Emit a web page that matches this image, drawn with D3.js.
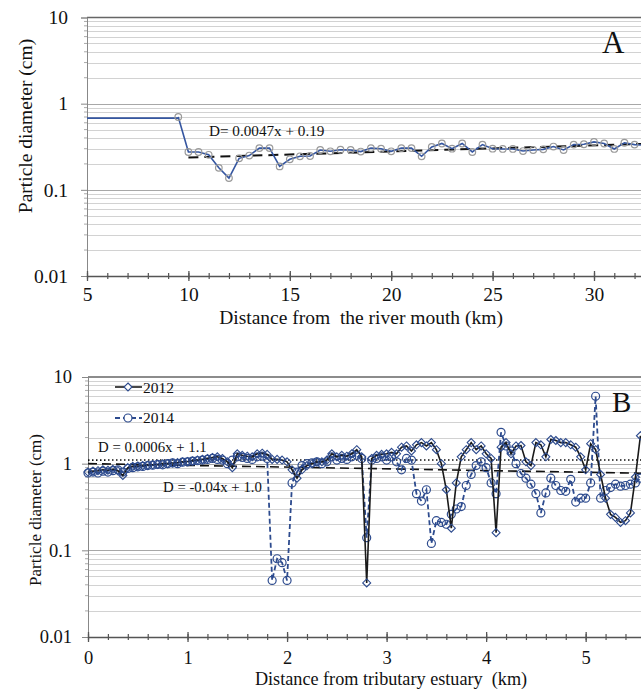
<!DOCTYPE html>
<html><head><meta charset="utf-8">
<script src="https://cdn.jsdelivr.net/npm/d3@7"></script>
<style>
body{margin:0;background:#fff}
svg{display:block}
text{font-family:"Liberation Serif","Times New Roman",serif;fill:#111}
</style>
</head><body>
<svg id="c" width="641" height="689"></svg>
<script>
// ---------- Panel A data ----------
const upstreamDistA = [5, 9.5];
const upstreamDiamA = [0.68, 0.68];
const distA = [9.5,10,10.5,11,11.5,12,12.5,13,13.5,14,14.5,15,15.5,16,16.5,17,17.5,18,18.5,19,19.5,20,20.5,21,21.5,22,22.5,23,23.5,24,24.5,25,25.5,26,26.5,27,27.5,28,28.5,29,29.5,30,30.5,31,31.5,32,32.5];
const diamA = [0.70,0.275,0.275,0.255,0.18,0.137,0.232,0.25,0.305,0.305,0.187,0.226,0.245,0.247,0.29,0.28,0.292,0.29,0.278,0.305,0.30,0.28,0.305,0.305,0.245,0.315,0.345,0.30,0.345,0.275,0.335,0.30,0.298,0.298,0.282,0.29,0.295,0.318,0.29,0.335,0.338,0.36,0.345,0.298,0.352,0.335,0.33];
const trendA = [0.0047, 0.19];          // slope, intercept
const trendARange = [10, 33];
const xTicksA = [5,10,15,20,25,30];

// ---------- Panel B data ----------
const distB = [0.00,0.05,0.10,0.15,0.20,0.25,0.30,0.35,0.40,0.45,0.50,0.55,0.60,0.65,0.70,0.75,0.80,0.85,0.90,0.95,
1.00,1.05,1.10,1.15,1.20,1.25,1.30,1.35,1.40,1.45,1.50,1.55,1.60,1.65,1.70,1.75,1.80,1.85,1.90,1.95,
2.00,2.05,2.10,2.15,2.20,2.25,2.30,2.35,2.40,2.45,2.50,2.55,2.60,2.65,2.70,2.75,2.80,2.85,2.90,2.95,
3.00,3.05,3.10,3.15,3.20,3.25,3.30,3.35,3.40,3.45,3.50,3.55,3.60,3.65,3.70,3.75,3.80,3.85,3.90,3.95,
4.00,4.05,4.10,4.15,4.20,4.25,4.30,4.35,4.40,4.45,4.50,4.55,4.60,4.65,4.70,4.75,4.80,4.85,4.90,4.95,
5.00,5.05,5.10,5.15,5.20,5.25,5.30,5.35,5.40,5.45,5.50,5.55];
const diam2012 = [0.80,0.82,0.83,0.85,0.84,0.86,0.83,0.73,0.90,0.93,0.94,0.95,0.96,0.97,0.98,1.00,1.00,1.02,1.03,1.05,
1.06,1.08,1.10,1.12,1.15,1.18,1.20,1.15,1.05,0.90,1.30,1.25,1.22,1.20,1.30,1.32,1.28,1.12,1.12,1.10,
1.05,0.85,0.68,0.85,0.95,1.00,1.05,1.05,1.10,1.30,1.20,1.25,1.22,1.30,1.45,1.20,0.042,1.15,1.25,1.28,
1.30,1.35,1.30,1.55,1.60,1.40,1.65,1.75,1.60,1.75,1.45,1.00,0.50,0.18,0.60,1.20,1.45,1.75,1.45,1.60,
1.30,1.15,0.16,1.55,1.75,1.30,1.60,1.62,1.05,0.95,1.75,1.65,1.20,1.90,1.85,1.75,1.75,1.65,1.55,1.20,
0.85,1.70,1.45,0.75,0.40,0.26,0.24,0.21,0.22,0.27,0.70,2.10];
const diam2014 = [0.78,0.80,0.78,0.82,0.80,0.83,0.85,0.80,0.88,0.90,0.92,0.93,0.95,0.96,0.98,0.97,1.00,1.02,1.00,1.04,
1.05,1.07,1.08,1.10,1.12,1.15,1.12,1.10,1.00,1.10,1.20,1.18,1.15,1.12,1.20,1.22,1.15,0.045,0.08,0.072,
0.045,0.60,0.80,0.95,1.00,1.02,1.05,1.00,1.05,1.20,1.10,1.15,1.12,1.20,1.25,1.15,0.14,1.10,1.15,1.20,
1.10,1.20,1.05,0.85,1.15,1.10,0.45,0.37,0.50,0.12,0.22,0.21,0.20,0.26,0.30,0.32,0.56,0.75,0.95,1.05,
0.90,0.60,0.45,2.30,1.60,1.40,1.00,0.77,0.68,0.58,0.45,0.27,0.46,0.68,0.56,0.49,0.48,0.66,0.36,0.40,
0.40,0.60,6.00,0.40,0.49,0.53,0.58,0.55,0.56,0.58,0.60,0.68];
const trend2012 = [0.0006, 1.1];
const trend2014 = [-0.04, 1.0];
const trendBRange = [0, 6];
const xTicksB = [0,1,2,3,4,5];

const yTickValues = [0.01, 0.1, 1, 10];
const yTickLabels = ["0.01", "0.1", "1", "10"];

// ---------- drawing ----------
const svg = d3.select("#c");
const W = 641;
const SERIF = '"Liberation Serif","Times New Roman",serif';

function drawFrame(x, y, opts) {
  const g = svg.append("g");
  const [x0] = x.range();
  const x1 = W + 10;
  const minor = [], major = [];
  for (let e = -2; e <= 0; e++) for (let k = 1; k <= 9; k++) {
    const v = k * Math.pow(10, e);
    (k === 1 ? major : minor).push(v);
  }
  g.selectAll(".gm").data(minor).join("line")
    .attr("x1", x0).attr("x2", x1).attr("y1", d => Math.round(y(d)) + 0.5).attr("y2", d => Math.round(y(d)) + 0.5)
    .attr("stroke", "#d2d2d2").attr("stroke-width", 1.2);
  g.selectAll(".gM").data(major.filter(d => d > 0.01)).join("line")
    .attr("x1", x0).attr("x2", x1).attr("y1", d => Math.round(y(d)) + 0.5).attr("y2", d => Math.round(y(d)) + 0.5)
    .attr("stroke", "#a8a8a8").attr("stroke-width", 1.2);
  g.append("line").attr("x1", x0).attr("x2", x1).attr("y1", y(10)).attr("y2", y(10))
    .attr("stroke", "#666").attr("stroke-width", 1.5);

  const ya = g.append("g").attr("transform", `translate(${x0},0)`)
    .call(d3.axisLeft(y).tickValues(yTickValues).tickFormat((d, i) => yTickLabels[i]).tickSize(6).tickPadding(opts.yPad));
  ya.attr("font-family", null);
  ya.select(".domain").attr("stroke", "#888");
  ya.selectAll(".tick line").attr("stroke", "#888");
  ya.selectAll("text").style("font-size", opts.tickFont + "px").style("font-family", SERIF).attr("fill", "#111");
  g.selectAll(".ymt").data(minor).join("line")
    .attr("x1", x0 - 3).attr("x2", x0).attr("y1", d => y(d)).attr("y2", d => y(d)).attr("stroke", "#aaa");

  const xa = g.append("g").attr("transform", `translate(0,${y(0.01)})`)
    .call(d3.axisBottom(x).tickValues(opts.minorX).tickFormat("").tickSize(0));
  xa.select(".domain").attr("stroke", "#555").attr("stroke-width", 1.3);
  xa.selectAll(".tick line").attr("y1", -3).attr("y2", 3).attr("stroke", "#555").attr("stroke-width", 1.2);
  const xb = g.append("g").attr("transform", `translate(0,${y(0.01)})`)
    .call(d3.axisBottom(x).tickValues(opts.majorX).tickSize(0).tickFormat(d3.format("d")));
  xb.attr("font-family", null);
  xb.select(".domain").remove();
  xb.selectAll(".tick line").attr("y1", -5).attr("y2", 5).attr("stroke", "#555").attr("stroke-width", 1.3);
  xb.selectAll("text").attr("y", opts.xLabY).attr("dy", 0)
    .style("font-size", opts.tickFont + "px").style("font-family", SERIF).attr("fill", "#111");
  return g;
}

// ----- Panel A -----
const xA = d3.scaleLinear().domain([5, 35]).range([87, 695.4]);
const yA = d3.scaleLog().domain([0.01, 10]).range([276, 17.5]);
drawFrame(xA, yA, {
  yPad: 13, tickFont: 19.5, xLabY: 25,
  minorX: d3.range(5, 36, 1), majorX: xTicksA
});
const lineA = d3.line().x(d => xA(d[0])).y(d => yA(d[1]));
const ptsA = distA.map((d, i) => [d, diamA[i]]);
const upA = upstreamDistA.map((d, i) => [d, upstreamDiamA[i]]);
svg.append("path")
  .attr("d", lineA([[trendARange[0], trendA[0] * trendARange[0] + trendA[1]], [trendARange[1], trendA[0] * trendARange[1] + trendA[1]]]))
  .attr("fill", "none").attr("stroke", "#111").attr("stroke-width", 2).attr("stroke-dasharray", "10,6");
svg.append("path").attr("d", lineA(upA.concat(ptsA)))
  .attr("fill", "none").attr("stroke", "#3556a0").attr("stroke-width", 1.6);
svg.append("g").selectAll("circle").data(ptsA).join("circle")
  .attr("cx", d => xA(d[0])).attr("cy", d => yA(d[1])).attr("r", 3.3)
  .attr("fill", "none").attr("stroke", "#9a9a9a").attr("stroke-width", 1.2);
svg.append("text").attr("x", 209).attr("y", 136).style("font-size", "15.2px").text("D= 0.0047x + 0.19");
svg.append("text").attr("x", 602).attr("y", 53).style("font-size", "31px").text("A");
svg.append("text").attr("transform", "translate(32,126) rotate(-90)").attr("text-anchor", "middle")
  .style("font-size", "19.5px").text("Particle diameter (cm)");
svg.append("text").attr("x", 361).attr("y", 324).attr("text-anchor", "middle")
  .style("font-size", "19.5px").attr("xml:space", "preserve").text("Distance from  the river mouth (km)");

// ----- Panel B -----
const xB = d3.scaleLinear().domain([0, 6]).range([88, 685.2]);
const yB = d3.scaleLog().domain([0.01, 10]).range([637, 377]);
drawFrame(xB, yB, {
  yPad: 10, tickFont: 18.5, xLabY: 27,
  minorX: d3.range(0, 6.01, 0.2), majorX: xTicksB
});
const lineB = d3.line().x(d => xB(d[0])).y(d => yB(d[1]));
const blue = "#2d4b8e";
const tr = (c, x) => c[0] * x + c[1];
svg.append("path").attr("d", lineB([[trendBRange[0], tr(trend2012, trendBRange[0])], [trendBRange[1], tr(trend2012, trendBRange[1])]]))
  .attr("fill", "none").attr("stroke", "#111").attr("stroke-width", 1.6).attr("stroke-dasharray", "1.5,2.5");
svg.append("path").attr("d", lineB([[trendBRange[0], tr(trend2014, trendBRange[0])], [trendBRange[1], tr(trend2014, trendBRange[1])]]))
  .attr("fill", "none").attr("stroke", "#111").attr("stroke-width", 1.6).attr("stroke-dasharray", "9,5");

const p2014 = distB.map((d, i) => [d, diam2014[i]]);
const p2012 = distB.map((d, i) => [d, diam2012[i]]);
svg.append("path").attr("d", lineB(p2014)).attr("fill", "none").attr("stroke", blue)
  .attr("stroke-width", 1.8).attr("stroke-dasharray", "5,3");
svg.append("g").selectAll("circle").data(p2014).join("circle")
  .attr("cx", d => xB(d[0])).attr("cy", d => yB(d[1])).attr("r", 4)
  .attr("fill", "none").attr("stroke", blue).attr("stroke-width", 1.2);
svg.append("path").attr("d", lineB(p2012)).attr("fill", "none").attr("stroke", "#1a1a1a").attr("stroke-width", 1.6);
const diamondPath = "M0,-4L4,0L0,4L-4,0Z";
svg.append("g").selectAll("path").data(p2012).join("path")
  .attr("transform", d => `translate(${xB(d[0])},${yB(d[1])})`).attr("d", diamondPath)
  .attr("fill", "none").attr("stroke", blue).attr("stroke-width", 1.1);

const lg = svg.append("g");
lg.append("line").attr("x1", 115).attr("x2", 142).attr("y1", 387).attr("y2", 387).attr("stroke", "#1a1a1a").attr("stroke-width", 1.6);
lg.append("path").attr("transform", "translate(128,387)").attr("d", diamondPath).attr("fill", "#fff").attr("stroke", blue).attr("stroke-width", 1.1);
lg.append("text").attr("x", 143).attr("y", 393).style("font-size", "15.5px").text("2012");
lg.append("line").attr("x1", 115).attr("x2", 142).attr("y1", 418).attr("y2", 418).attr("stroke", blue).attr("stroke-width", 1.8).attr("stroke-dasharray", "5,3");
lg.append("circle").attr("cx", 128).attr("cy", 418).attr("r", 4).attr("fill", "#fff").attr("stroke", blue).attr("stroke-width", 1.2);
lg.append("text").attr("x", 143).attr("y", 423).style("font-size", "15.5px").text("2014");

svg.append("text").attr("x", 98).attr("y", 452).style("font-size", "14.8px").text("D = 0.0006x + 1.1");
svg.append("text").attr("x", 163).attr("y", 492).style("font-size", "14.8px").text("D = -0.04x + 1.0");
svg.append("text").attr("x", 612).attr("y", 412).style("font-size", "29px").text("B");
svg.append("text").attr("transform", "translate(41,510) rotate(-90)").attr("text-anchor", "middle")
  .style("font-size", "17px").text("Particle diameter (cm)");
svg.append("text").attr("x", 391).attr("y", 685).attr("text-anchor", "middle")
  .style("font-size", "18.2px").attr("xml:space", "preserve").text("Distance from tributary estuary  (km)");
</script>
</body></html>
